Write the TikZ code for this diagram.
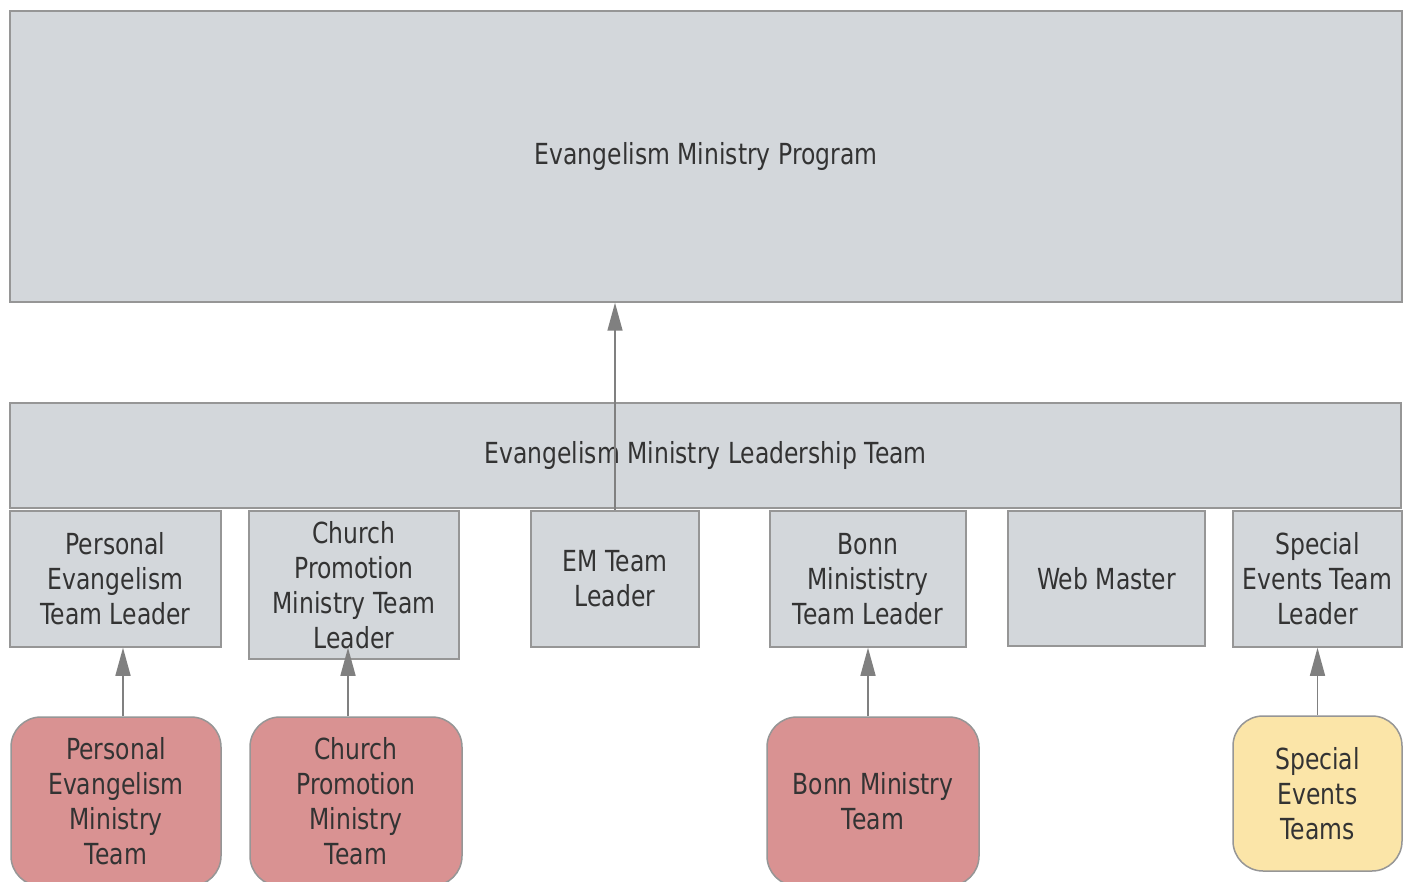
\documentclass[tikz,border=0pt]{standalone}
\usepackage{fontspec}
\setmainfont{DejaVu Sans}[FakeStretch=0.81]
\usetikzlibrary{arrows.meta}
\definecolor{boxgray}{RGB}{211,215,219}
\definecolor{edgegray}{RGB}{150,150,150}
\definecolor{teamred}{RGB}{217,146,146}
\definecolor{teamyellow}{RGB}{251,229,168}
\definecolor{txt}{RGB}{51,51,51}
\definecolor{arrgray}{RGB}{128,128,128}
\tikzset{
  base/.style={draw=edgegray, line width=1.5pt, inner sep=0pt, align=center, text=txt,
    font=\fontsize{29}{35}\selectfont},
  gbox/.style={base, fill=boxgray},
  redteam/.style={base, fill=teamred, rounded corners=30pt},
  yelteam/.style={base, fill=teamyellow, rounded corners=30pt},
  link/.style={draw=arrgray, line width=1.5pt, -{Triangle[length=28pt,width=15pt,fill=arrgray]}}
}
\begin{document}
\begin{tikzpicture}[x=1pt,y=-1pt]
\clip (0,0) rectangle (1408,882);
\fill[white] (0,0) rectangle (1408,882);
\node[gbox, minimum width=1392pt, minimum height=291pt] (top) at (706,156.5) {Evangelism Ministry Program};
\node[gbox, minimum width=1391pt, minimum height=105pt] (lead) at (705.5,455.5) {Evangelism Ministry Leadership Team};
\node[gbox, minimum width=211pt, minimum height=136pt] (pel) at (115.5,579) {Personal\\Evangelism\\Team Leader};
\node[gbox, minimum width=210pt, minimum height=148pt] (cpl) at (354,585) {Church\\Promotion\\Ministry Team\\Leader};
\node[gbox, minimum width=168pt, minimum height=136pt] (eml) at (615,579) {EM Team\\Leader};
\node[gbox, minimum width=196pt, minimum height=136pt] (bnl) at (868,579) {Bonn\\Minististry\\Team Leader};
\node[gbox, minimum width=197pt, minimum height=135pt] (web) at (1106.5,578.5) {Web Master};
\node[gbox, minimum width=169pt, minimum height=136pt] (sel) at (1317.5,579) {Special\\Events Team\\Leader};
\node[redteam, minimum width=210pt, minimum height=169pt] (pet) at (116,801.5) {Personal\\Evangelism\\Ministry\\Team};
\node[redteam, minimum width=212pt, minimum height=169pt] (cpt) at (356,801.5) {Church\\Promotion\\Ministry\\Team};
\node[redteam, minimum width=212pt, minimum height=169pt] (bnt) at (873,801.5) {Bonn Ministry\\Team};
\node[yelteam, minimum width=169pt, minimum height=155pt] (set) at (1317.5,793.5) {Special\\Events\\Teams};
\draw[link] (eml.north) -- (top.south -| eml.north);
\draw[link] ([xshift=7pt]pet.north) -- ([xshift=7.5pt]pel.south);
\draw[link] ([xshift=-8pt]cpt.north) -- ([xshift=-6pt,yshift=12pt]cpl.south);
\draw[link] ([xshift=-5pt]bnt.north) -- (bnl.south);
\draw[link] (set.north) -- (sel.south);
\end{tikzpicture}
\end{document}
